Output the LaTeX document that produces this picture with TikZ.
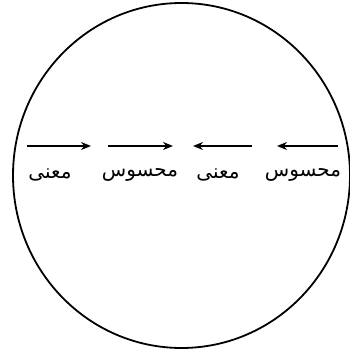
\documentclass[tikz,border=0pt]{standalone}
\usepackage{fontspec}
\usepackage{tikz}
\usetikzlibrary{arrows.meta,positioning}
\TeXXeTstate=1
\newfontfamily\arabicfont[Script=Arabic]{DejaVu Sans}

\begin{document}
\begin{tikzpicture}[
    x=1pt, y=1pt,
    >={Stealth[length=10pt,width=8pt]},
    word/.style={font=\arabicfont\fontsize{20}{24}\selectfont, inner sep=0pt, anchor=center},
    flow/.style={->, line width=2pt, black}
]
\useasboundingbox (0,0) rectangle (350,351);

% Outer circle
\draw[line width=1.8pt] (181.5,175.5) ellipse [x radius=168.5, y radius=172.5];

% ==================== WORDS ====================
\node[word] (maana1) at (50,176) {\beginR معنی\endR};
\node[word] (mahsus1) at (140,176) {\beginR محسوس\endR};
\node[word] (maana2) at (218,176) {\beginR معنی\endR};
\node[word] (mahsus2) at (303,176) {\beginR محسوس\endR};

% ==================== ARROW ENDS ====================
\coordinate (a1s) at (27,205);
\coordinate (a1e) at (91,205);
\coordinate (a2s) at (108,205);
\coordinate (a2e) at (173,205);
\coordinate (a3s) at (252,205);
\coordinate (a3e) at (193,205);
\coordinate (a4s) at (338,205);
\coordinate (a4e) at (277,205);

% ==================== ARROWS ====================
\draw[flow] (a1s) -- (a1e);
\draw[flow] (a2s) -- (a2e);
\draw[flow] (a3s) -- (a3e);
\draw[flow] (a4s) -- (a4e);

\end{tikzpicture}
\end{document}
